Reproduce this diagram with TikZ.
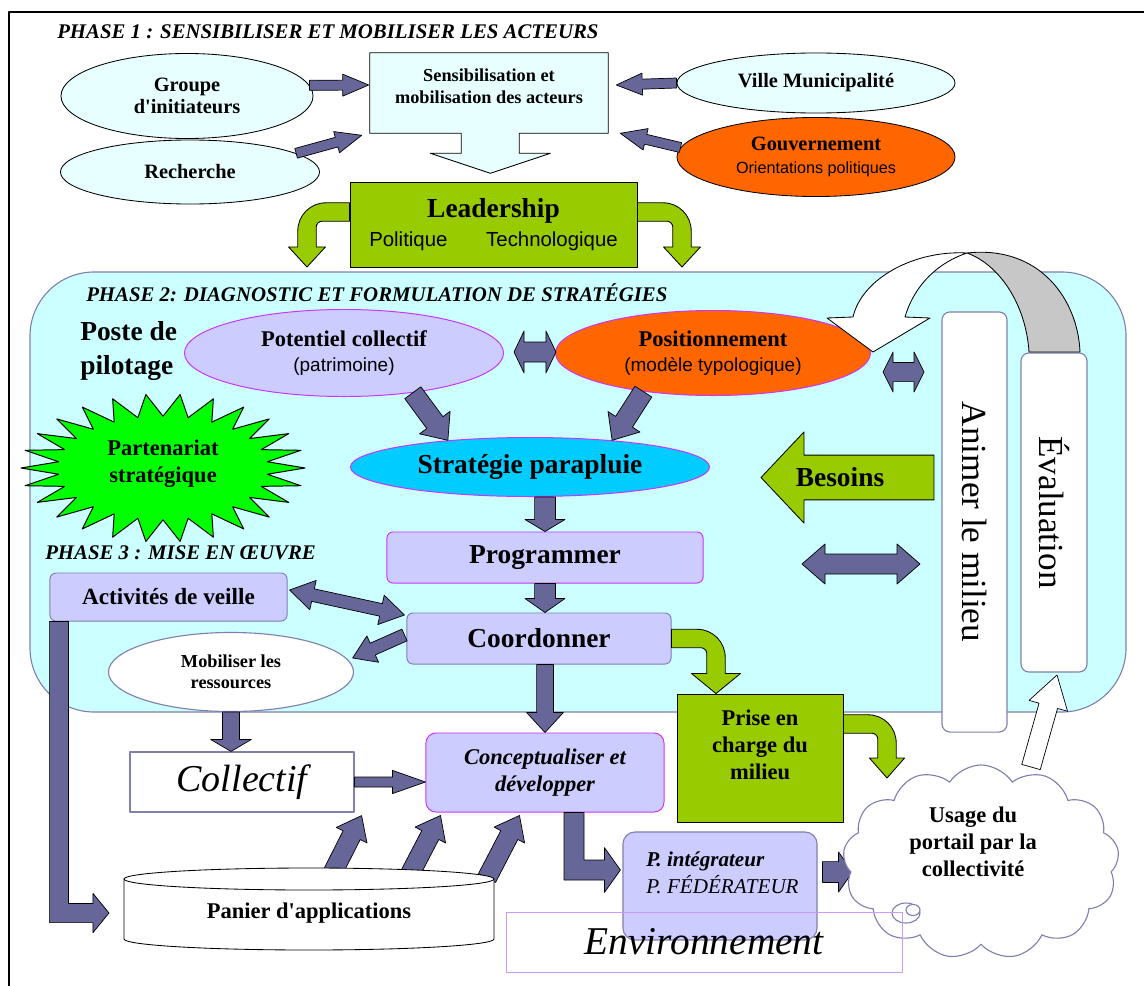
\documentclass[tikz,border=0pt]{standalone}
\usepackage{fontspec}
\setmainfont{Liberation Serif}
\setsansfont{Liberation Sans}
\usetikzlibrary{calc,shapes.geometric,shapes.symbols}

\definecolor{cyanlt}{HTML}{E8FFFF}
\definecolor{phasebg}{HTML}{CCFFFF}
\definecolor{slate}{HTML}{666699}
\definecolor{lavbg}{HTML}{CCCCFF}
\definecolor{leafgreen}{HTML}{99CC00}
\definecolor{orangebg}{HTML}{FF6600}
\definecolor{skybg}{HTML}{00CCFF}
\definecolor{burstgreen}{HTML}{00FF00}
\definecolor{violetline}{HTML}{CC33FF}
\definecolor{greyblue}{HTML}{8080B0}
\definecolor{lilac}{HTML}{CC99FF}

% fat arrow #2 -> #3 : half shaft #4, half head #5, head length #6
\newcommand{\blockarr}[6][slatearrow]{%
  \draw[#1] ($(#2)!#4!90:(#3)$) -- ($(#3)!#6!(#2)!#4!-90:(#2)$)
    -- ($(#3)!#6!(#2)!#5!-90:(#2)$) -- (#3)
    -- ($(#3)!#6!(#2)!#5!90:(#2)$) -- ($(#3)!#6!(#2)!#4!90:(#2)$)
    -- ($(#2)!#4!-90:(#3)$) -- cycle;}
% fat arrow with two heads
\newcommand{\dblarr}[6][slatearrow]{%
  \draw[#1] (#2) -- ($(#2)!#6!(#3)!#5!90:(#3)$) -- ($(#2)!#6!(#3)!#4!90:(#3)$)
    -- ($(#3)!#6!(#2)!#4!-90:(#2)$) -- ($(#3)!#6!(#2)!#5!-90:(#2)$) -- (#3)
    -- ($(#3)!#6!(#2)!#5!90:(#2)$) -- ($(#3)!#6!(#2)!#4!90:(#2)$)
    -- ($(#2)!#6!(#3)!#4!-90:(#3)$) -- ($(#2)!#6!(#3)!#5!-90:(#3)$) -- cycle;}
% fat arrow going down, then right
\newcommand{\elbowarr}[6][slatearrow]{%
  \draw[#1] let \p1=(#2), \p2=(#3) in
    ({\x1-#4},\y1) -- ({\x1-#4},{\y2-#4}) -- ({\x2-#6},{\y2-#4}) -- ({\x2-#6},{\y2-#5})
    -- (\x2,\y2) -- ({\x2-#6},{\y2+#5}) -- ({\x2-#6},{\y2+#4}) -- ({\x1+#4},{\y2+#4})
    -- ({\x1+#4},\y1) -- cycle;}
% green arrow going sideways, then bending down
\newcommand{\bentarr}[3][4.6mm]{%
  \draw[greenarrow] let \p1=(#2), \p2=(#3), \n1={sign(\x2-\x1)} in
    (\x1,{\y1+2.3mm}) -- ({\x2+\n1*(2.3mm-7mm)},{\y1+2.3mm})
    arc[start angle=90, end angle={90-90*\n1}, radius=7mm]
    -- ({\x2+\n1*2.3mm},{\y2+5mm}) -- ({\x2+\n1*#1},{\y2+5mm}) -- (\x2,\y2)
    -- ({\x2-\n1*#1},{\y2+5mm}) -- ({\x2-\n1*2.3mm},{\y2+5mm})
    -- ({\x2-\n1*2.3mm},{\y1-3.8mm})
    arc[start angle={90-90*\n1}, end angle=90, radius=1.5mm]
    -- (\x1,{\y1-2.3mm}) -- cycle;}

\begin{document}
\begin{tikzpicture}[x=0.025cm, y=-0.025cm, line join=round, line cap=round,
  every node/.style={inner sep=0pt},
  phasetitle/.style={anchor=west, font=\fontsize{14.8}{17}\selectfont\bfseries\itshape},
  bubble/.style={ellipse, draw, line width=0.6pt, fill=cyanlt, align=center,
    font=\fontsize{14.5}{16}\selectfont\bfseries},
  lavbox/.style={draw=violetline, fill=lavbg, line width=0.7pt, rounded corners=1.5mm,
    align=center, font=\fontsize{19.5}{22}\selectfont\bfseries},
  tallbox/.style={draw=greyblue, fill=white, line width=0.8pt, rounded corners=2mm,
    rotate=-90, font=\fontsize{25}{30}\selectfont},
  slatearrow/.style={fill=slate, draw=black, line width=0.5pt},
  greenarrow/.style={fill=leafgreen, draw=black, line width=0.6pt},
  whitearrow/.style={fill=white, draw=black, line width=0.5pt}]
\useasboundingbox (0,0) rectangle (1144,986);
\draw[line width=0.8pt] (9,986) -- (9,12) -- (1144,12);

% phase 1
\node[phasetitle] (ph1) at (57,32) {PHASE 1 : SENSIBILISER ET MOBILISER LES ACTEURS};
\node[bubble, minimum width=63mm, minimum height=21.25mm] (grp) at (187,96) {Groupe\\d\textquotesingle initiateurs};
\node[bubble, minimum width=64.75mm, minimum height=16mm] (rech) at (190,172) {Recherche};
\node[bubble, minimum width=69.5mm, minimum height=15mm] (ville) at (816,83) {Ville Municipalité};
\node[bubble, fill=orangebg, minimum width=69.5mm, minimum height=19.75mm] (gouv) at (816,157)
  {Gouvernement\\{\sffamily\mdseries\fontsize{11.5}{14}\selectfont Orientations politiques}};
\node[minimum width=59.5mm, minimum height=20mm] (sens) at (489,93) {};
\draw[fill=cyanlt, line width=0.6pt] (sens.north west) -- (sens.north east) -- (sens.south east)
  -- ++(-89,0) -- ++(0,20) -- ++(31,0) -- ++(-60,20) -- ++(-60,-20) -- ++(31,0) -- ++(0,-20)
  -- (sens.south west) -- cycle;
\node[align=center, font=\fontsize{13}{15.6}\selectfont\bfseries] (senstxt) at (489,86)
  {Sensibilisation et\\mobilisation des acteurs};
\coordinate (gtip) at ($(sens.west)+(-1,-8)$);
\coordinate (rtip) at ($(sens.south west)+(-8,2)$);
\coordinate (vtip) at ($(sens.east)+(8,-8)$);
\coordinate (gotip) at ($(sens.south east)+(12,0)$);
\blockarr{grp.5}{gtip}{1.25mm}{2.75mm}{6.5mm}
\blockarr{rech.10}{rtip}{1.25mm}{2.75mm}{6.5mm}
\blockarr{ville.west}{vtip}{1.25mm}{2.75mm}{6.5mm}
\blockarr{gouv.176}{gotip}{1.25mm}{2.75mm}{6.5mm}

\node[draw, fill=leafgreen, line width=0.6pt, minimum width=71.75mm, minimum height=21.25mm,
  align=center, font=\fontsize{19.5}{19.5}\selectfont\bfseries] (lead) at (493.5,224.5)
  {Leadership\\[1pt]{\sffamily\mdseries\fontsize{14.5}{17}\selectfont Politique\hspace{1.9em}Technologique}};
\coordinate (lsL) at ($(lead.west)+(0,-12.5)$);
\coordinate (ltL) at (307,267);
\coordinate (lsR) at ($(lead.east)+(0,-12.5)$);
\coordinate (ltR) at (682,267);
\bentarr{lsL}{ltL}
\bentarr{lsR}{ltR}

% phase 2
\draw[draw=greyblue, fill=phasebg, line width=0.8pt, rounded corners=16mm] (30,272) rectangle (1126,712);
\node[phasetitle] (ph2) at (86,293) {PHASE 2: DIAGNOSTIC ET FORMULATION DE STRATÉGIES};
\node[anchor=west, align=left, font=\fontsize{19.5}{23.5}\selectfont\bfseries] (poste) at (80,351) {Poste de\\pilotage};
\node[ellipse, draw=violetline, fill=lavbg, line width=0.7pt, minimum width=79.75mm, minimum height=21.75mm,
  align=center, font=\fontsize{16}{17.8}\selectfont\bfseries] (pot) at (344,353)
  {Potentiel collectif\\{\sffamily\mdseries\fontsize{13.5}{17.8}\selectfont (patrimoine)}};
\node[ellipse, draw=violetline, fill=orangebg, line width=0.7pt, minimum width=78.75mm, minimum height=21.25mm,
  align=center, font=\fontsize{16}{17.8}\selectfont\bfseries] (pos) at (713,353)
  {Positionnement\\{\sffamily\mdseries\fontsize{13.5}{17.8}\selectfont (modèle typologique)}};
\node[ellipse, draw=violetline, fill=skybg, line width=0.7pt, minimum width=89.75mm, minimum height=14.75mm,
  font=\fontsize{19.5}{22}\selectfont\bfseries] (strat) at (530,467) {Stratégie parapluie};
\coordinate (d1a) at ($(pot.east)+(10,-1)$);
\coordinate (d1b) at ($(pos.west)+(1,-1)$);
\dblarr{d1a}{d1b}{2.5mm}{5.25mm}{2.5mm}
\coordinate (d2a) at ($(pos.east)+(12,19)$);
\coordinate (d2b) at ($(d2a)+(41,0)$);
\dblarr{d2a}{d2b}{2.4mm}{5mm}{2.5mm}
\blockarr{pot.-30}{strat.162}{2.5mm}{4.75mm}{5.5mm}
\blockarr{pos.209}{strat.18}{2.5mm}{4.75mm}{5.5mm}

\coordinate (besR) at (934,477.5);
\coordinate (besL) at (761,477.5);
\blockarr[greenarrow]{besR}{besL}{5.6mm}{11.4mm}{10.75mm}
\node[font=\fontsize{19.5}{22}\selectfont\bfseries] (besoins) at (840,477) {Besoins};

\node[lavbox, minimum width=79mm, minimum height=12.75mm] (prog) at (545,557.5) {Programmer};
\coordinate (sp) at (strat.south -| prog.north);
\blockarr{sp}{prog.north}{2.6mm}{5mm}{3mm}
\node[lavbox, draw=greyblue, minimum width=66mm, minimum height=12.75mm] (coord) at (539,638.5) {Coordonner};
\coordinate (cn) at (coord.north -| prog.south);
\blockarr{prog.south}{cn}{2.6mm}{5mm}{3.5mm}
\coordinate (d3a) at (802,564);
\coordinate (d3b) at (920,564);
\dblarr{d3a}{d3b}{2.5mm}{5mm}{5.75mm}

\node[tallbox, minimum width=105mm, minimum height=16.25mm] (anim) at (974.5,522) {Animer le milieu};
\node[tallbox, minimum width=79.75mm, minimum height=16.5mm] (eval) at (1054,512.5) {Évaluation};

% curved return arrow
\draw[fill=black!22, line width=0.6pt] (967,253) .. controls (1040,245) and (1078,300) .. (1080,352)
  -- (1029,352) .. controls (1026,305) and (1000,265) .. (967,253) -- cycle;
\draw[whitearrow, line width=0.6pt] (967,253) .. controls (915,250) and (862,278) .. (853,317)
  -- (827,318) -- (873,352) -- (930,318) -- (905,317) .. controls (915,283) and (940,262) .. (967,253) -- cycle;

% partenariat
\begin{scope}[shift={(163,468)}]
\draw[fill=burstgreen, line width=0.7pt] (142,0)
  \foreach \a in {1,...,51} { -- ({(0.87+0.13*cos(180*\a))*142*cos(\a*6.9231)},{(0.85+0.15*cos(180*\a))*74*sin(\a*6.9231)}) } -- cycle;
\end{scope}
\node[align=center, font=\fontsize{16}{19.2}\selectfont\bfseries] (part) at (163,464) {Partenariat\\stratégique};

% phase 3
\node[phasetitle] (ph3) at (45,553) {PHASE 3 : MISE EN ŒUVRE};
\node[lavbox, draw=greyblue, minimum width=59.25mm, minimum height=12mm, font=\fontsize{16.5}{19}\selectfont\bfseries]
  (act) at (168.5,597) {Activités de veille};
\coordinate (a1) at ($(act.east)+(2,-7)$);
\coordinate (a2) at ($(coord.west)+(-2,-23.5)$);
\dblarr{a1}{a2}{1.6mm}{3.75mm}{6mm}
\node[ellipse, draw=greyblue, fill=white, line width=0.8pt, minimum width=61.25mm, minimum height=19.75mm,
  align=center, font=\fontsize{13}{15}\selectfont\bfseries] (mob) at (231,672) {Mobiliser les\\ressources};
\coordinate (c1) at ($(coord.west)+(-2,-3.5)$);
\coordinate (mtip) at ($(mob.east)+(-1.5,-14)$);
\blockarr{c1}{mtip}{1.6mm}{3.6mm}{5.5mm}
\node[draw=greyblue, fill=white, line width=0.8pt, minimum width=56mm, minimum height=15mm,
  font=\fontsize{27}{30}\selectfont\itshape] (coll) at (242,782) {Collectif};
\coordinate (mc) at (coll.north -| mob.south);
\blockarr{mob.south}{mc}{2.1mm}{5.1mm}{3mm}
\node[lavbox, rounded corners=2.5mm, minimum width=59.5mm, minimum height=19.75mm,
  font=\fontsize{16}{19.2}\selectfont\bfseries\itshape] (concept) at (545,772.5) {Conceptualiser et\\développer};
\coordinate (cc) at (concept.west |- coll.east);
\blockarr{coll.east}{cc}{1.25mm}{2.9mm}{8.25mm}
\coordinate (cd) at (coord.south -| concept.north);
\blockarr{cd}{concept.north}{2.1mm}{4.6mm}{5mm}

\node[draw, fill=leafgreen, line width=0.6pt, minimum width=41.5mm, minimum height=32mm] (prise) at (760,758) {};
\node[align=center, font=\fontsize{16}{19.2}\selectfont\bfseries] (prisetxt) at (760,745) {Prise en\\charge du\\milieu};
\coordinate (ptip) at ($(prise.north)+(-44,0)$);
\bentarr[6.1mm]{coord.east}{ptip}
\coordinate (ps) at ($(prise.east)+(0,-34)$);
\coordinate (pc) at (887,778);
\bentarr[4.4mm]{ps}{pc}

\node[draw=greyblue, fill=lavbg, line width=0.8pt, rounded corners=3mm, minimum width=48.5mm, minimum height=27mm]
  (pbox) at (720,886) {};
\node[anchor=west, align=left, font=\fontsize{15}{19.2}\selectfont\itshape] (ptxt) at (646,873)
  {\textbf{P. intégrateur}\\P. FÉDÉRATEUR};
\coordinate (ce) at ($(concept.south)+(29,0)$);
\coordinate (pe) at ($(pbox.west)+(-2,-16)$);
\elbowarr{ce}{pe}{2.5mm}{5.6mm}{4mm}

% panier
\coordinate (as) at ($(act.south west)+(9.5,0)$);
\coordinate (at) at (109,913);
\elbowarr{as}{at}{2.4mm}{4.9mm}{4mm}
\coordinate (u1a) at (332,874);
\coordinate (u1b) at ($(coll.south east)+(7,3)$);
\coordinate (u2a) at (410,874);
\coordinate (u2b) at ($(concept.south west)+(15,3)$);
\coordinate (u3a) at (487,878);
\coordinate (u3b) at ($(concept.south west)+(94,3)$);
\blockarr{u1a}{u1b}{2.4mm}{4.3mm}{5.5mm}
\blockarr{u2a}{u2b}{2.4mm}{4.3mm}{5.5mm}
\blockarr{u3a}{u3b}{2.4mm}{4.3mm}{5.5mm}
\draw[fill=white, line width=0.6pt] (124,879) -- (124,939) .. controls (124,945.1) and (206.8,950) .. (309,950)
  .. controls (411.2,950) and (494,945.1) .. (494,939) -- (494,879)
  .. controls (494,872.9) and (411.2,868) .. (309,868) .. controls (206.8,868) and (124,872.9) .. (124,879) -- cycle;
\draw[line width=0.6pt] (124,879) .. controls (124,885.1) and (206.8,890) .. (309,890)
  .. controls (411.2,890) and (494,885.1) .. (494,879);
\node[font=\fontsize{16}{19}\selectfont\bfseries] (panier) at (309,913) {Panier d\textquotesingle applications};

% usage
\coordinate (pb1) at ($(pbox.east)+(5,-14)$);
\coordinate (pb2) at ($(pb1)+(30,0)$);
\blockarr{pb1}{pb2}{2.6mm}{5mm}{3.5mm}
\coordinate (cl) at (1031,767);
\coordinate (et) at (1057,675);
\blockarr[whitearrow]{cl}{et}{2.4mm}{5mm}{8mm}
\node[cloud, cloud puffs=13, cloud puff arc=115, aspect=1.42, draw=greyblue, fill=white, line width=0.8pt,
  minimum width=69mm, minimum height=48.5mm] (cloud) at (981,862) {};
\draw[draw=greyblue, fill=white, line width=0.8pt] (906,913) ellipse [x radius=14, y radius=10];
\draw[draw=greyblue, fill=white, line width=0.8pt] (913,910) ellipse [x radius=7, y radius=5.5];
\node[align=center, font=\fontsize{16}{19.2}\selectfont\bfseries] (usage) at (973,842) {Usage du\\portail par la\\collectivité};

\node[draw=lilac, line width=0.6pt, minimum width=99mm, minimum height=15mm,
  font=\fontsize{28}{30}\selectfont\itshape] (env) at (704,942) {Environnement};
\end{tikzpicture}
\end{document}
